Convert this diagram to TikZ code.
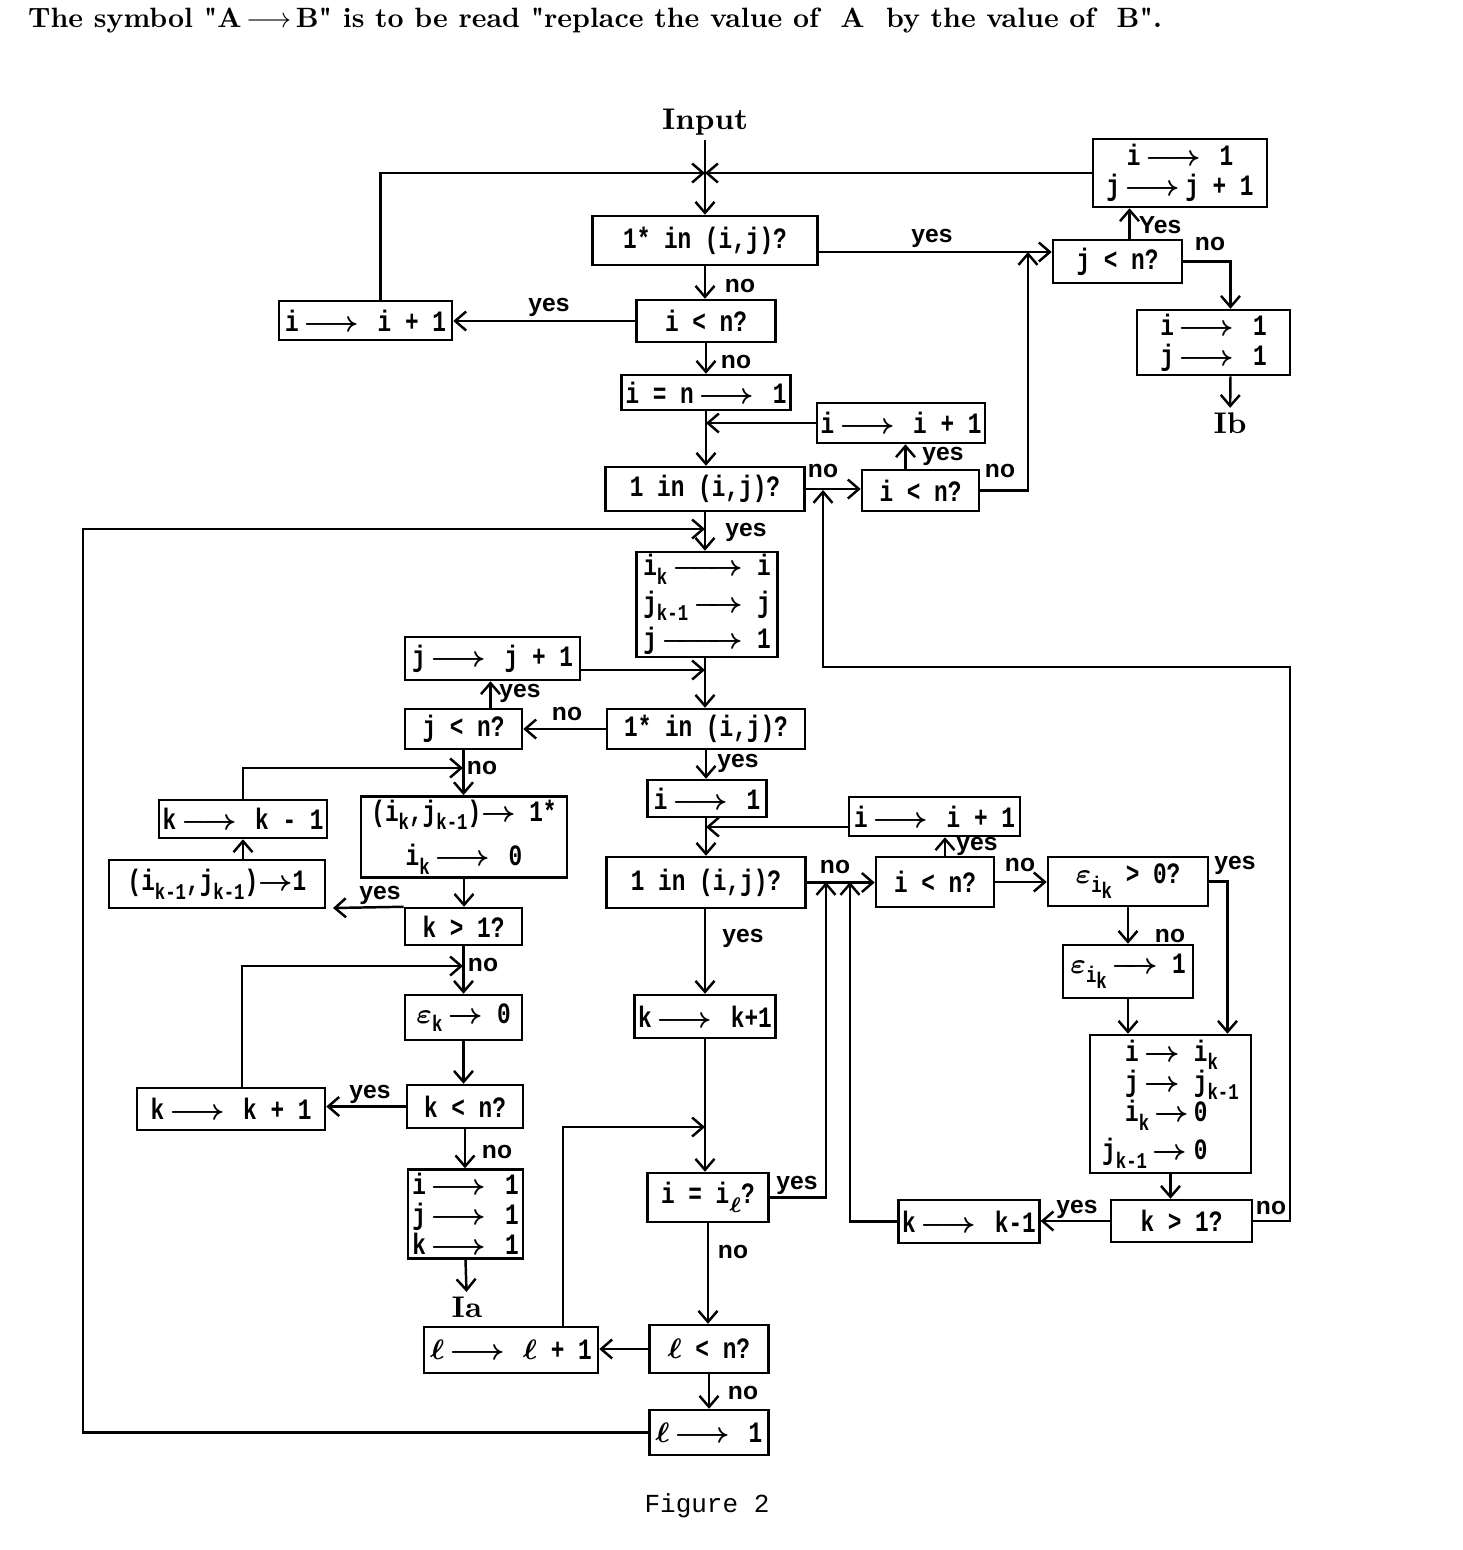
\documentclass[tikz,border=0pt]{standalone}
\usepackage{fontspec}
\usepackage{graphicx}
\usetikzlibrary{arrows.meta,calc}

\newfontfamily\tw[FakeStretch=0.77]{Liberation Mono}
\newfontfamily\cour{Liberation Mono}
\newfontfamily\lab{Liberation Sans}
\newcommand\sub[1]{\raisebox{-.55ex}{\fontsize{6.4}{6.4}\selectfont #1}}
\newcommand\ar{\,$\longrightarrow$\,}
\newcommand\arf[2]{\makebox[#1][l]{#2\,\rightarrowfill}}

\tikzset{
  box/.style 2 args={draw, line width=.7pt, inner sep=1pt, align=center,
    minimum width=#1cm, minimum height=#2cm,
    font=\tw\bfseries\boldmath\fontsize{8.4}{8.6}\selectfont},
  lbl/.style={inner sep=0pt, font=\lab\bfseries\fontsize{7}{8}\selectfont},
  term/.style={inner sep=1pt, font=\bfseries\fontsize{8.5}{10}\selectfont}
}

\begin{document}
\begin{tikzpicture}[x=0.01cm, y=-0.01cm, line width=.7pt,
    >={Straight Barb[length=1.1mm,width=1.9mm]}]
\useasboundingbox (0,0) rectangle (1462,1550);

\node[anchor=west, inner sep=0pt] (head) at (27,20)
  {\resizebox{11.33cm}{!}{\bfseries The symbol \textquotedbl A\,$\longrightarrow$\,B\textquotedbl{} is to be read \textquotedbl replace the value of\ \ A\ \ by the value of\ \ B\textquotedbl.}};
\node[term] (input) at (705,122) {Input};
\node[term] (ib) at (1230,423) {Ib};
\node[term] (ia) at (467,1307) {Ia};
\node[inner sep=0pt, font=\cour\fontsize{7.4}{8}\selectfont] (fig) at (707,1506) {Figure 2};

% top part
\node[box={2.25}{.49}] (in1) at (705,240.5) {1* in (i,j)?};
\node[box={1.29}{.43}] (jlt1) at (1117.5,261.5) {j < n?};
\node[box={1.74}{.68}] (ij1) at (1180,173) {i\ar\ 1\\ j\ar j + 1};
\node[box={1.53}{.65}] (ij2) at (1213.5,342.5) {i\ar\ 1\\ j\ar\ 1};
\node[box={1.39}{.42}] (ilt1) at (706,321) {i < n?};
\node[box={1.73}{.39}] (inc1) at (365.5,320.5) {i\ar\ i + 1};
\node[box={1.69}{.35}] (ieq) at (706,392.5) {i = n\ar\ 1};
\node[box={1.56}{.40}] (inc2) at (901,423) {i\ar\ i + 1};
\node[box={1.99}{.44}] (one1) at (705,489) {1 in (i,j)?};
\node[box={1.17}{.41}] (ilt2) at (920.5,490.5) {i < n?};

% left part
\node[box={1.41}{1.05}, inner sep=.5pt, align=left] (set1) at (707,604.5)
  {\arf{10mm}{i\sub{k}}\ i\\[.6mm] \arf{10mm}{j\sub{k-1}}\ j\\[.6mm] \arf{10mm}{j}\ 1};
\node[box={1.75}{.43}] (jinc) at (492.5,658.5) {j\ar\ j + 1};
\node[box={1.98}{.40}] (in2) at (706,729) {1* in (i,j)?};
\node[box={1.17}{.40}] (jlt2) at (463.5,729) {j < n?};
\node[box={2.06}{.80}] (set2) at (464,837)
  {(i\sub{k},j\sub{k-1})$\rightarrow$ 1*\\[1.4mm] i\sub{k}\ar\ 0};
\node[box={1.60}{.38}] (kdec1) at (243,819) {k\ar\ k - 1};
\node[box={2.16}{.48}] (set3) at (217,884) {(i\sub{k-1},j\sub{k-1})$\rightarrow$1};
\node[box={1.17}{.37}] (kgt1) at (463.5,926.5) {k > 1?};
\node[box={1.17}{.45}] (eps0) at (463.5,1017.5) {\arf{6.7mm}{$\varepsilon$\sub{k}}\ 0};
\node[box={1.16}{.43}] (klt) at (465,1106.5) {k < n?};
\node[box={1.88}{.42}] (kinc1) at (231,1109) {k\ar\ k + 1};
\node[box={1.15}{.88}] (set4) at (465.5,1214) {i\ar\ 1\\ j\ar\ 1\\ k\ar\ 1};

% middle and right part
\node[box={1.19}{.37}] (ione) at (707,798.5) {i\ar\ 1};
\node[box={1.71}{.39}] (inc3) at (934.5,816.5) {i\ar\ i + 1};
\node[box={1.99}{.51}] (one2) at (706,882.5) {1 in (i,j)?};
\node[box={1.18}{.50}] (ilt3) at (935,882) {i < n?};
\node[box={1.60}{.49}] (epsq) at (1128,881.5) {$\varepsilon$\sub{i\sub{k}}\ > 0?};
\node[box={1.30}{.53}] (eps1) at (1128,971.5) {\arf{8.8mm}{$\varepsilon$\sub{i\sub{k}}}\ 1};
\node[box={1.61}{1.38}, align=left] (set5) at (1170.5,1104)
  {\hspace*{2.3mm}\arf{5.5mm}{i}\ i\sub{k}\\
   \hspace*{2.3mm}\arf{5.5mm}{j}\ j\sub{k-1}\\
   \hspace*{2.3mm}\arf{5.5mm}{i\sub{k}}\ 0\\[.8mm]
   \arf{7.8mm}{j\sub{k-1}}\ 0};
\node[box={1.41}{.42}] (kgt2) at (1181.5,1221) {k > 1?};
\node[box={1.26}{.43}] (kdec2) at (969,1221.5) {k\ar\ k-1};
\node[box={1.26}{.43}] (kinc2) at (705,1016.5) {k\ar\ k+1};
\node[box={1.21}{.49}] (ieql) at (708,1197.5) {i = i\sub{$\ell$}?};
\node[box={1.19}{.48}] (llt) at (709,1349) {$\ell$ < n?};
\node[box={1.74}{.46}] (linc) at (511,1350) {$\ell$\ar\ $\ell$ + 1};
\node[box={1.19}{.45}] (lone) at (709,1432.5) {$\ell$\ar\ 1};

% yes / no labels
\foreach \x/\y/\t [count=\n] in {932/238/yes, 1160/225/Yes, 1210/244/no,
    740/286/no, 549/307/yes, 736/362/no, 943/456/yes, 823/471/no,
    1000/471/no, 746/532/yes, 520/693/yes, 567/714/no, 482/768/no,
    738/763/yes, 380/895/yes, 483/965/no, 370/1094/yes, 497/1152/no,
    977/846/yes, 835/867/no, 1020/865/no, 1235/865/yes, 1170/936/no,
    743/938/yes, 797/1185/yes, 1077/1209/yes, 1271/1208/no,
    733/1252/no, 743/1393/no}
  \node[lbl] (lab\n) at (\x,\y) {\t};

% junctions
\coordinate (jA) at (705,173);
\coordinate (jY) at (1028,252);
\coordinate (jC) at (705,529);
\coordinate (jD) at (705,670);
\coordinate (jE) at (463,768);
\coordinate (jF) at (463,966);
\coordinate (jG) at (706,827);
\coordinate (jH) at (826,882);
\coordinate (jI) at (850,882);
\coordinate (jK) at (823,490);
\coordinate (jL) at (705,1127);
\coordinate (yk) at (333,908);
\coordinate (yesT) at ($(jlt1.north)+(12,0)$);
\coordinate (yesB) at ($(ilt2.north)+(-15,0)$);
\coordinate (yesC) at ($(jlt2.north)+(27,0)$);
\coordinate (yesD) at ($(ilt3.north)+(10,0)$);

% top connectors
\draw[->] (input) -- (input |- in1.north);
\draw[->] ($(inc1.north)+(15,0)$) |- (jA);
\draw[->] (ij1.west) -- (jA);
\draw[->] (in1.east |- jY) -- (jlt1.west |- jY);
\draw[->] (ilt2.east) -| (jY);
\draw[->] (yesT) -- (yesT |- ij1.south);
\draw[->] (jlt1.east) -| ($(ij2.north)+(17,0)$);
\draw[->] ($(ij2.south)+(17,0)$) -- (ib);
\draw[->] (in1.south) -- (in1.south |- ilt1.north);
\draw[->] (ilt1.west) -- (ilt1.west -| inc1.east);
\draw[->] (ilt1.south) -- (ilt1.south |- ieq.north);
\draw[->] (ieq.south) -- (ieq.south |- one1.north);
\draw[->] (inc2.west) -- (inc2.west -| ieq.south);
\draw[->] (one1.east) -- (one1.east -| ilt2.west);
\draw[->] (yesB) -- (yesB |- inc2.south);

% left connectors
\draw[->] (lone.west) -| (83,529) -- (jC);
\draw[->] (one1.south) -- (one1.south |- set1.north);
\draw[->] (jinc.east |- jD) -- (jD);
\draw[->] (set1.south -| jD) -- (jD |- in2.north);
\draw[->] (in2.west) -- (in2.west -| jlt2.east);
\draw[->] (yesC) -- (yesC |- jinc.south);
\draw[->] (jlt2.south) -- (jlt2.south |- set2.north);
\draw[->] (kdec1.north) |- (jE);
\draw[->] (kdec1.south |- set3.north) -- (kdec1.south);
\draw[->] (set2.south) -- (set2.south |- kgt1.north);
\draw[->] (kgt1.north west) -- (yk);
\draw[->] (kgt1.south) -- (kgt1.south |- eps0.north);
\draw[->] ($(kinc1.north)+(11,0)$) |- (jF);
\draw[->] (eps0.south) -- (eps0.south |- klt.north);
\draw[->] (klt.west) -- (klt.west -| kinc1.east);
\draw[->] (klt.south) -- (klt.south |- set4.north);
\draw[->] (set4.south) -- (ia);

% middle and right connectors
\draw[->] (in2.south) -- (in2.south |- ione.north);
\draw[->] (ione.south -| jG) -- (jG |- one2.north);
\draw[->] (inc3.west |- jG) -- (jG);
\draw[->] (one2.east) -- (one2.east -| ilt3.west);
\draw[->] (yesD) -- (yesD |- inc3.south);
\draw[->] (ieql.east) -| (jH);
\draw[->] (kdec2.west) -| (jI);
\draw[->] (ilt3.east) -- (ilt3.east -| epsq.west);
\draw[->] (epsq.east) -| ($(set5.north)+(57,0)$);
\draw[->] (epsq.south) -- (epsq.south |- eps1.north);
\draw[->] (eps1.south) -- (eps1.south |- set5.north);
\draw[->] (set5.south) -- (set5.south |- kgt2.north);
\draw[->] (kgt2.west) -- (kgt2.west -| kdec2.east);
\draw[->] (kgt2.east) -| (1290,667) -| (jK);
\draw[->] (one2.south -| jL) -- (jL |- kinc2.north);
\draw[->] (kinc2.south -| jL) -- (jL |- ieql.north);
\draw[->] ($(linc.north)+(52,0)$) |- (jL);
\draw[->] (ieql.south) -- (ieql.south |- llt.north);
\draw[->] (llt.west) -- (llt.west -| linc.east);
\draw[->] (llt.south) -- (llt.south |- lone.north);
\end{tikzpicture}
\end{document}
